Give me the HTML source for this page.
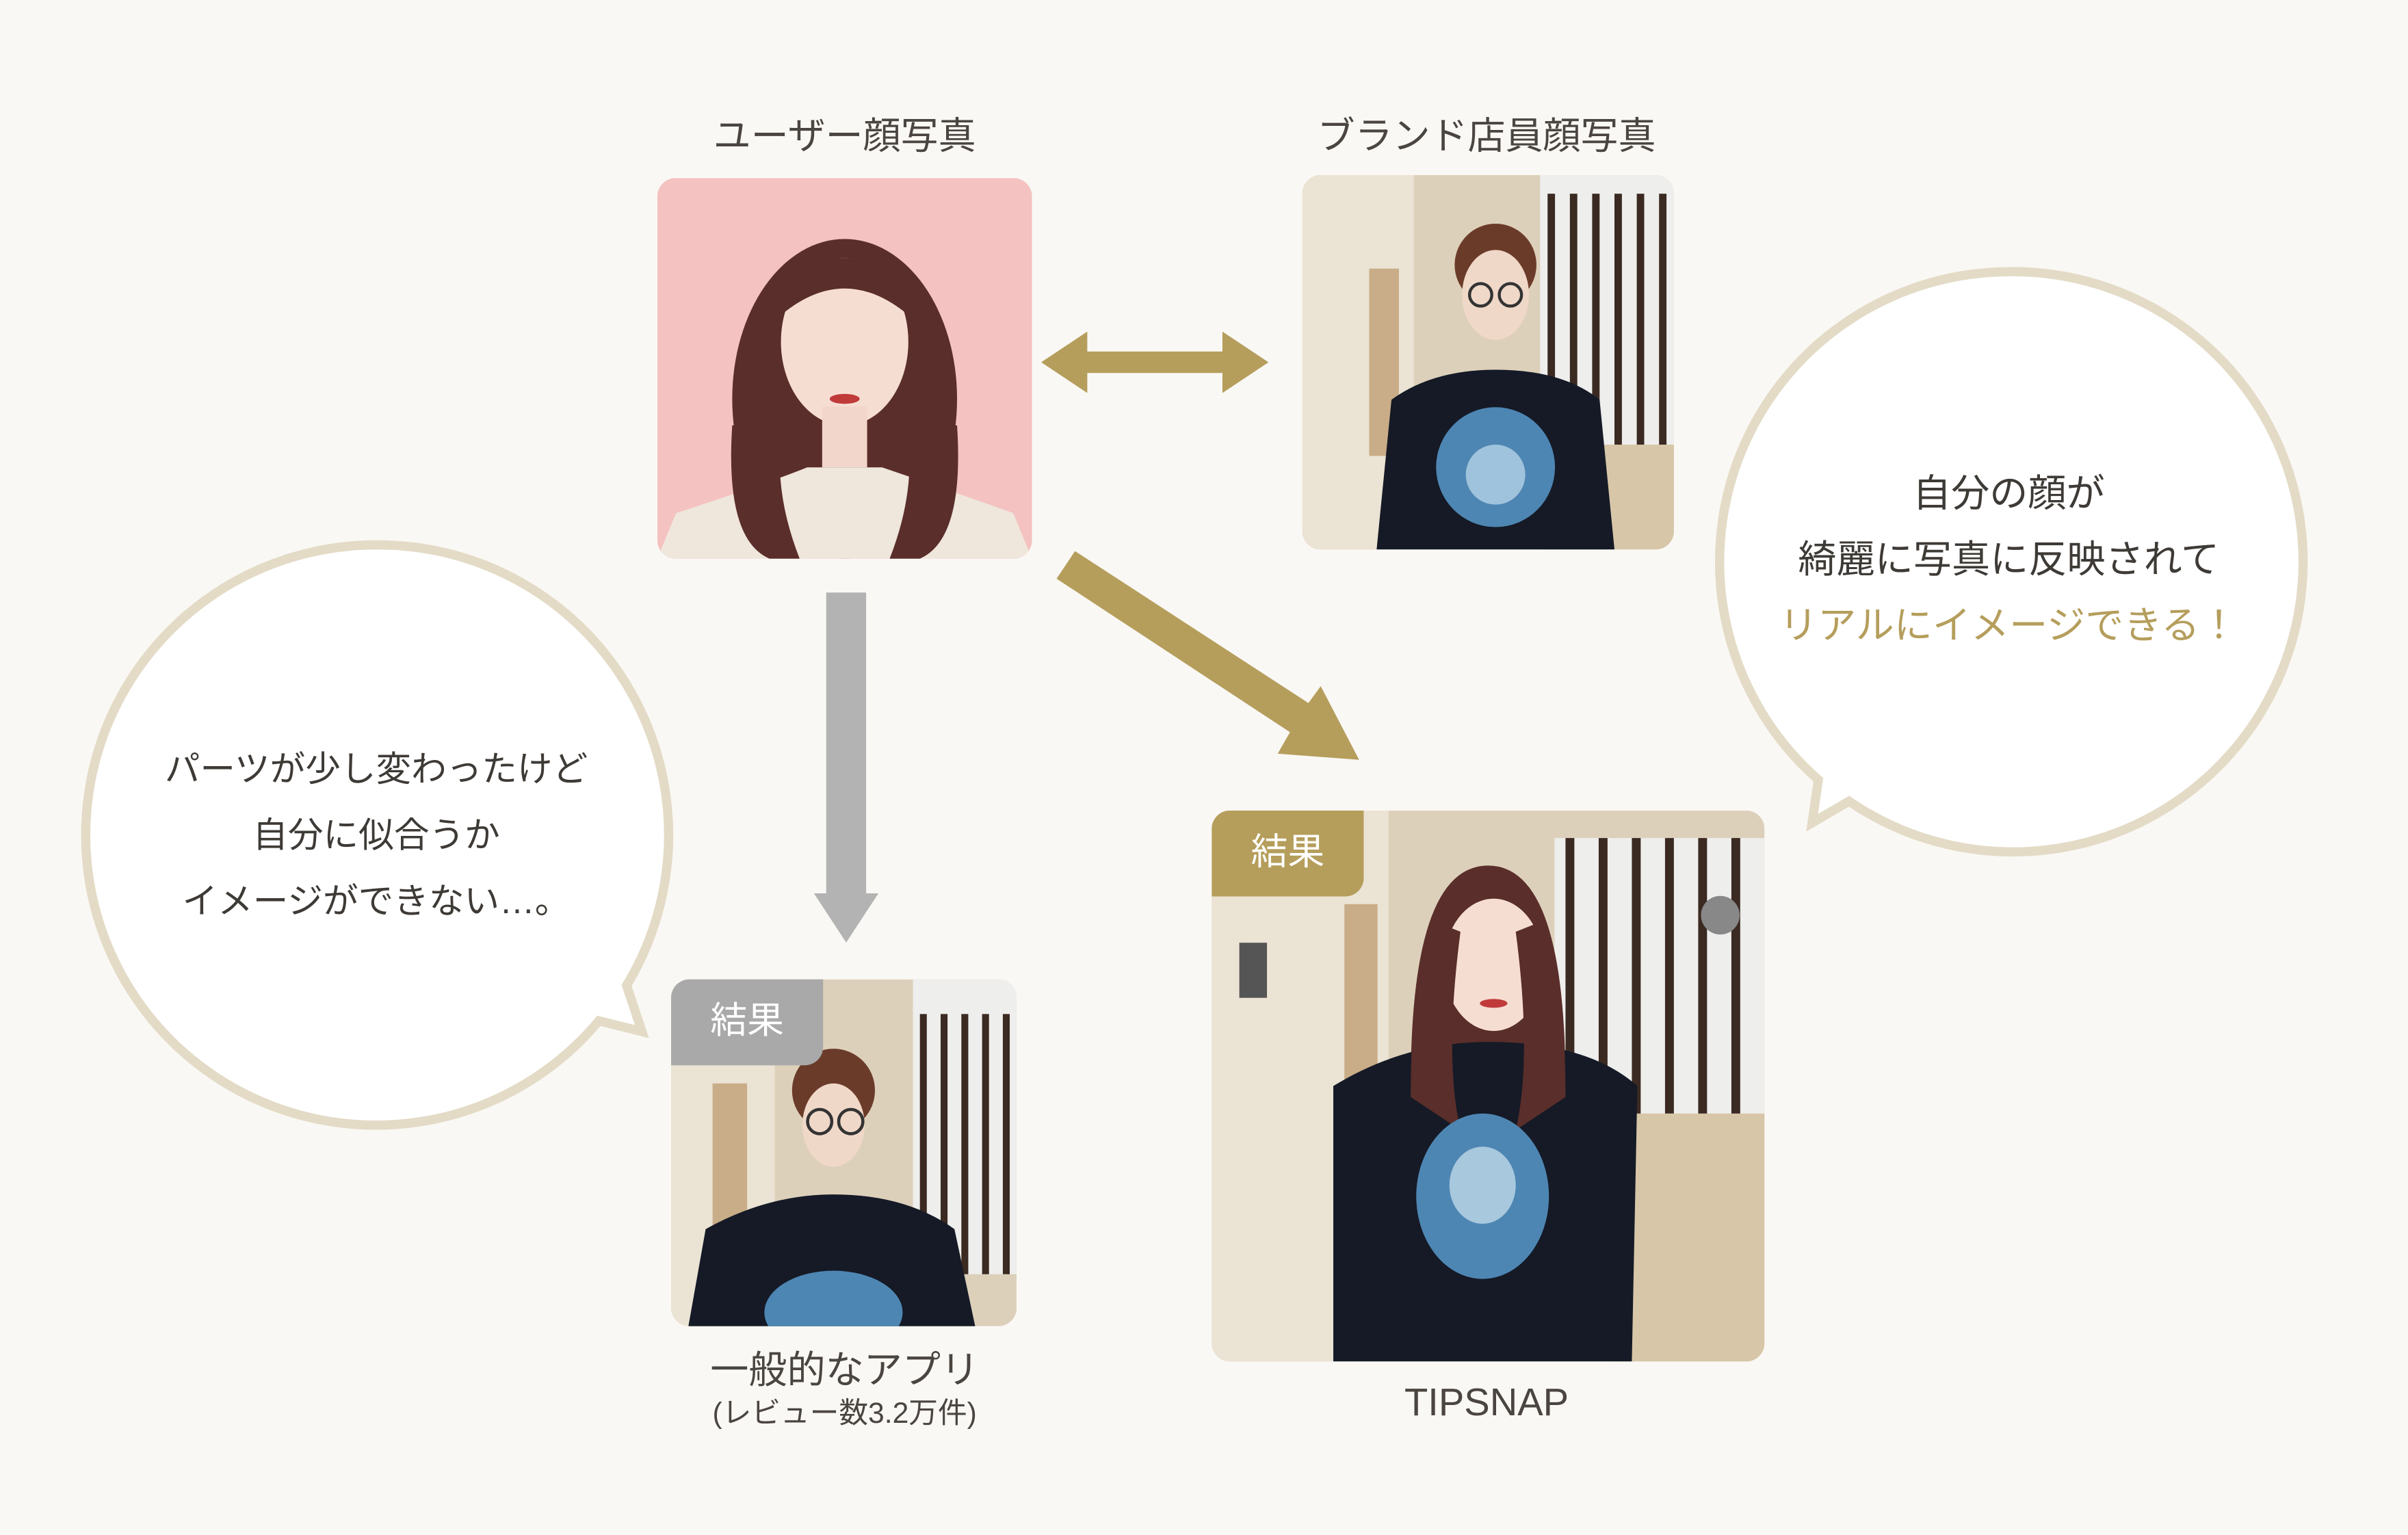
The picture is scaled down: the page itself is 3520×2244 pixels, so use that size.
<!DOCTYPE html>
<html><head><meta charset="utf-8">
<style>
html,body{margin:0;padding:0;background:#faf8f4;}
body{width:3520px;height:2244px;overflow:hidden;position:relative;font-family:"Liberation Sans","Noto Sans CJK JP",sans-serif;}
#s{position:absolute;left:0;top:0;width:1568px;height:1000px;transform:scale(2.2449,2.244);transform-origin:0 0;}
.a{position:absolute;}
.t{position:absolute;color:#4a4540;font-size:24.5px;text-align:center;white-space:nowrap;}
.ph{position:absolute;border-radius:12px;overflow:hidden;}
.ph svg{width:100%;height:100%;display:block;}
.lab{position:absolute;left:0;top:0;width:99px;height:56px;border-bottom-right-radius:12px;color:#fff;font-size:24px;line-height:56px;text-align:center;}
.bt{position:absolute;text-align:center;font-size:25px;line-height:43px;color:#3e3a36;white-space:nowrap;}
</style></head><body><div id="s">

<div class="t" style="left:420px;top:70px;width:260px;">ユーザー顔写真</div>
<div class="t" style="left:828px;top:70px;width:280px;">ブランド店員顔写真</div>

<div class="ph" style="left:428px;top:116px;width:244px;height:248px;">
<svg viewBox="0 0 100 100" preserveAspectRatio="none">
<rect width="100" height="100" fill="#f4c2c0"/>
<ellipse cx="50" cy="58" rx="30" ry="42" fill="#5a2e2a"/>
<ellipse cx="50" cy="43" rx="17" ry="22" fill="#f6ddd2"/>
<path d="M33 30 Q50 12 67 30 L67 36 Q50 22 33 36Z" fill="#5a2e2a"/>
<rect x="44" y="60" width="12" height="16" fill="#f3d6cb"/>
<path d="M0 100 L5 88 Q30 80 40 76 L60 76 Q72 80 95 88 L100 100Z" fill="#efe6dc"/>
<path d="M20 65 Q18 95 30 100 L38 100 Q30 80 34 62Z" fill="#5a2e2a"/>
<path d="M80 65 Q82 95 70 100 L62 100 Q70 80 66 62Z" fill="#5a2e2a"/>
<ellipse cx="50" cy="58" rx="4" ry="1.3" fill="#c03a3a"/>
</svg></div>

<div class="ph" style="left:848px;top:114px;width:242px;height:244px;">
<svg viewBox="0 0 100 100" preserveAspectRatio="none">
<rect width="100" height="100" fill="#ddd0bb"/>
<rect x="0" y="0" width="30" height="100" fill="#ebe3d4"/>
<rect x="18" y="25" width="8" height="50" fill="#c9ad88"/>
<rect x="64" y="0" width="36" height="72" fill="#eeeeec"/>
<g fill="#3b2a22"><rect x="66" y="5" width="2" height="67"/><rect x="72" y="5" width="2" height="67"/><rect x="78" y="5" width="2" height="67"/><rect x="84" y="5" width="2" height="67"/><rect x="90" y="5" width="2" height="67"/><rect x="96" y="5" width="2" height="67"/></g>
<rect x="64" y="72" width="36" height="28" fill="#d7c6a8"/>
<ellipse cx="52" cy="24" rx="11" ry="11" fill="#6b3b2a"/>
<ellipse cx="52" cy="32" rx="9" ry="12" fill="#f0d8c8"/>
<circle cx="48" cy="32" r="3" fill="none" stroke="#333" stroke-width="0.8"/><circle cx="56" cy="32" r="3" fill="none" stroke="#333" stroke-width="0.8"/>
<path d="M20 100 L24 60 Q35 52 52 52 Q70 52 80 60 L84 100Z" fill="#151a26"/>
<ellipse cx="52" cy="78" rx="16" ry="16" fill="#4e86b3"/>
<ellipse cx="52" cy="80" rx="8" ry="8" fill="#9fc3dc"/>
</svg></div>

<svg class="a" style="left:676px;top:214px;" width="152" height="44" viewBox="0 0 152 44">
<polygon points="2,22 32,2 32,15 120,15 120,2 150,22 120,42 120,29 32,29 32,42" fill="#b59e5c"/></svg>

<svg class="a" style="left:528px;top:386px;" width="46" height="230" viewBox="0 0 46 230">
<polygon points="10,0 36,0 36,196 44,196 23,228 2,196 10,196" fill="#b3b3b3"/></svg>

<svg class="a" style="left:680px;top:355px;" width="215" height="145" viewBox="0 0 215 145">
<polygon points="8,22 20,4 172,103 180,92 205,140 152,136 160,122" fill="#b59e5c"/></svg>

<svg class="a" style="left:50px;top:350px;" width="400" height="395" viewBox="0 0 400 395">
<path d="M195 5 A189 189 0 1 0 340 315 L368 322 L358 292 A189 189 0 0 0 195 5Z" fill="#fff" stroke="#e3dbc6" stroke-width="6"/></svg>
<div class="bt" style="left:95px;top:480px;width:300px;font-size:23px;">パーツが少し変わったけど<br>自分に似合うか<br>イメージができない…。</div>

<svg class="a" style="left:1112px;top:172px;" width="392" height="390" viewBox="0 0 392 390">
<path d="M196 5 A189 189 0 1 1 92 350 L68 364 L72 336 A189 189 0 0 1 196 5Z" fill="#fff" stroke="#e3dbc6" stroke-width="6"/></svg>
<div class="bt" style="left:1158px;top:301px;width:300px;">自分の顔が<br>綺麗に写真に反映されて<br><span style="color:#b59e5c">リアルにイメージできる！</span></div>

<div class="ph" style="left:437px;top:638px;width:225px;height:226px;">
<svg viewBox="0 0 100 100" preserveAspectRatio="none">
<rect width="100" height="100" fill="#ddd0bb"/>
<rect x="0" y="0" width="30" height="100" fill="#ebe3d4"/>
<rect x="12" y="30" width="10" height="50" fill="#c9ad88"/>
<rect x="70" y="0" width="30" height="85" fill="#eeeeec"/>
<g fill="#3b2a22"><rect x="72" y="10" width="2" height="75"/><rect x="78" y="10" width="2" height="75"/><rect x="84" y="10" width="2" height="75"/><rect x="90" y="10" width="2" height="75"/><rect x="96" y="10" width="2" height="75"/></g>
<ellipse cx="47" cy="32" rx="12" ry="12" fill="#6b3b2a"/>
<ellipse cx="47" cy="42" rx="9" ry="12" fill="#f0d8c8"/>
<circle cx="43" cy="41" r="3.5" fill="none" stroke="#333" stroke-width="0.9"/><circle cx="52" cy="41" r="3.5" fill="none" stroke="#333" stroke-width="0.9"/>
<path d="M5 100 L10 72 Q28 62 47 62 Q68 62 82 72 L88 100Z" fill="#151a26"/>
<ellipse cx="47" cy="96" rx="20" ry="12" fill="#4e86b3"/>
</svg>
<div class="lab" style="background:#a9a9a9;">結果</div></div>
<div class="t" style="left:420px;top:873px;width:260px;font-size:25px;">一般的なアプリ</div>
<div class="t" style="left:420px;top:906px;width:260px;font-size:19px;">(レビュー数3.2万件)</div>

<div class="ph" style="left:789px;top:528px;width:360px;height:359px;">
<svg viewBox="0 0 100 100" preserveAspectRatio="none">
<rect width="100" height="100" fill="#ddd0bb"/>
<rect x="0" y="0" width="32" height="100" fill="#ebe3d4"/>
<rect x="5" y="24" width="5" height="10" fill="#555"/>
<rect x="24" y="17" width="6" height="60" fill="#c9ad88"/>
<rect x="62" y="5" width="38" height="50" fill="#eeeeec"/>
<g fill="#3b2a22"><rect x="64" y="5" width="1.6" height="50"/><rect x="70" y="5" width="1.6" height="50"/><rect x="76" y="5" width="1.6" height="50"/><rect x="82" y="5" width="1.6" height="50"/><rect x="88" y="5" width="1.6" height="50"/><rect x="94" y="5" width="1.6" height="50"/></g>
<rect x="72" y="55" width="28" height="45" fill="#d7c6a8"/>
<circle cx="92" cy="19" r="3.5" fill="#888"/>
<path d="M36 50 Q36 10 50 10 Q64 10 64 50 Q60 58 50 55 Q40 58 36 50Z" fill="#5a2e2a"/>
<ellipse cx="51" cy="28" rx="9" ry="12" fill="#f6ddd2"/>
<ellipse cx="51" cy="35" rx="2.5" ry="0.8" fill="#c03a3a"/>
<path d="M22 100 L22 50 Q35 42 50 42 Q68 42 77 50 L76 100Z" fill="#151a26"/>
<path d="M36 52 Q36 30 40 20 L45 22 Q42 45 45 58Z" fill="#5a2e2a"/>
<path d="M64 52 Q64 30 60 20 L55 22 Q58 45 55 58Z" fill="#5a2e2a"/>
<ellipse cx="49" cy="70" rx="12" ry="15" fill="#4e86b3"/>
<ellipse cx="49" cy="68" rx="6" ry="7" fill="#a8c8de"/>
</svg>
<div class="lab" style="background:#b59e5c;">結果</div></div>
<div class="t" style="left:840px;top:900px;width:256px;font-size:25px;">TIPSNAP</div>

</div></body></html>
